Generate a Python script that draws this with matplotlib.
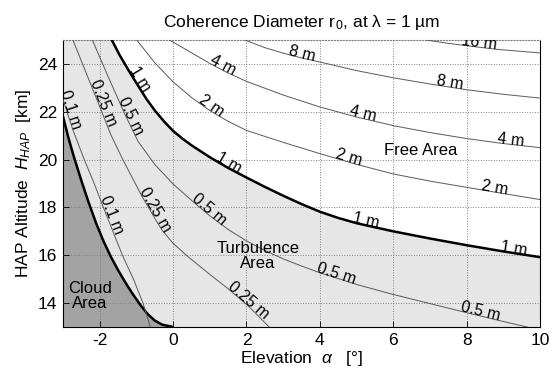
import numpy as np
import matplotlib
matplotlib.use("Agg")
import matplotlib.pyplot as plt

plt.rcParams["font.family"] = ["Liberation Sans", "DejaVu Sans"]
plt.rcParams["mathtext.fontset"] = "custom"
plt.rcParams["mathtext.rm"] = "Liberation Sans"
plt.rcParams["mathtext.it"] = "Liberation Sans:italic"
plt.rcParams["axes.unicode_minus"] = False

# r0 contour lines: elevation [deg] -> HAP altitude [km]
R010_EL = [-3.0, -2.72, -2.42, -2.15, -1.9, -1.64, -1.38, -1.08, -0.82, -0.62]
R010_H = [22.5, 21.2, 20.0, 19.0, 18.0, 17.0, 16.0, 15.0, 14.0, 13.0]
R025_EL = [-2.73, -2.35, -1.97, -1.7, -1.37, -0.86, -0.5, -0.3, 0.0, 0.4, 1.0, 1.5, 2.05, 2.62]
R025_H = [25.0, 23.55, 22.1, 21.05, 20.0, 18.5, 17.55, 17.05, 16.5, 15.95, 15.2, 14.6, 13.88, 13.0]
R050_EL = [-2.2, -1.75, -1.3, -0.95, -0.5, 0.0, 0.5, 1.0, 1.5, 2.0, 2.5, 3.0, 3.5, 4.0,
           5.0, 6.0, 7.0, 8.0, 9.0, 9.65]
R050_H = [25.0, 23.4, 21.85, 20.75, 19.8, 18.98, 18.3, 17.65, 17.08, 16.6, 16.2, 15.85, 15.55,
          15.27, 14.78, 14.36, 13.98, 13.6, 13.23, 13.0]
R1_EL = [-1.67, -1.45, -1.2, -0.95, -0.72, -0.5, -0.25, 0.0, 0.25, 0.5, 1.0, 1.5, 2.0, 2.5,
         3.0, 3.5, 4.0, 4.5, 5.0, 6.0, 7.0, 8.0, 9.0, 10.0]
R1_H = [25.0, 24.35, 23.7, 23.08, 22.52, 22.06, 21.6, 21.2, 20.88, 20.6, 20.1, 19.65, 19.25,
        18.86, 18.49, 18.14, 17.82, 17.56, 17.34, 17.0, 16.7, 16.42, 16.16, 15.92]
R2_EL = [-0.99, -0.5, 0.0, 0.5, 1.0, 1.5, 2.0, 3.0, 4.0, 5.0, 6.0, 7.0, 8.0, 9.0, 10.0]
R2_H = [25.0, 24.05, 23.25, 22.6, 22.05, 21.6, 21.22, 20.72, 20.25, 19.8, 19.4, 19.1, 18.84,
        18.58, 18.33]
R4_EL = [-0.1, 0.5, 1.0, 1.5, 2.0, 3.0, 4.0, 5.0, 6.0, 7.0, 8.0, 9.0, 10.0]
R4_H = [25.0, 24.47, 24.02, 23.62, 23.27, 22.7, 22.2, 21.78, 21.42, 21.13, 20.88, 20.67, 20.5]
R8_EL = [1.96, 2.5, 3.0, 3.5, 4.0, 5.0, 6.0, 7.0, 8.0, 9.0, 10.0]
R8_H = [25.0, 24.68, 24.45, 24.25, 24.08, 23.72, 23.42, 23.16, 22.92, 22.73, 22.57]
R16_EL = [6.9, 7.5, 8.0, 8.82, 10.0]
R16_H = [25.0, 24.86, 24.76, 24.61, 24.46]

# cloud top boundary
CLOUD_EL = [-3.0, -2.85, -2.7, -2.5, -2.3, -2.1, -1.9, -1.7, -1.5, -1.3, -1.1, -0.9, -0.7,
            -0.5, -0.3, 0.0]
CLOUD_H = [21.8, 20.9, 20.1, 19.12, 18.2, 17.35, 16.6, 15.95, 15.38, 14.86, 14.38, 13.94,
           13.55, 13.27, 13.1, 13.0]

LINES = [
    ("0.1 m", R010_EL, R010_H, [-2.9, -1.8]),
    ("0.25 m", R025_EL, R025_H, [-2.02, -0.6, 1.97]),
    ("0.5 m", R050_EL, R050_H, [-1.27, 0.9, 4.42, 8.34]),
    ("1 m", R1_EL, R1_H, [-1.02, 1.45, 5.23, 9.26]),
    ("2 m", R2_EL, R2_H, [0.97, 4.75, 8.76]),
    ("4 m", R4_EL, R4_H, [1.3, 5.14, 9.2]),
    ("8 m", R8_EL, R8_H, [3.5, 7.53]),
    ("16 m", R16_EL, R16_H, [8.33]),
]

LIGHT = "#e6e6e6"
DARK = "#a3a3a3"

fig = plt.figure(figsize=(5.55, 3.72), dpi=100)
ax = fig.add_axes([63 / 555, 45 / 372, 477 / 555, 287 / 372])
ax.set_xlim(-3, 10)
ax.set_ylim(13, 25)
ax.set_facecolor("white")

# turbulence area below the 1 m line, cloud area left of the cloud boundary
ax.fill(np.r_[R1_EL, 10, -3, -3], np.r_[R1_H, 13, 13, 25], color=LIGHT, lw=0, zorder=1)
ax.fill(np.r_[CLOUD_EL, -3], np.r_[CLOUD_H, 13], color=DARK, lw=0, zorder=1.1)

ax.set_xticks(range(-2, 11, 2))
ax.set_yticks(range(14, 25, 2))
ax.grid(True, ls=":", color="0.5", lw=0.7)
ax.set_axisbelow(False)
ax.tick_params(direction="in", length=4, width=0.6, labelsize=12.5, pad=4)
for s in ("left", "bottom", "right"):
    ax.spines[s].set_linewidth(0.8)
ax.spines["top"].set_linestyle(":")
ax.spines["top"].set_color("0.5")

ax.plot(CLOUD_EL, CLOUD_H, color="black", lw=1.8, zorder=3, solid_capstyle="butt")
for name, xs, ys, anchors in LINES:
    thick = name == "1 m"
    ax.plot(xs, ys, color="black" if thick else "0.35", lw=1.8 if thick else 0.7, zorder=3)
    for x0 in anchors:
        y0 = np.interp(x0, xs, ys)
        p1 = ax.transData.transform((x0 - 0.05, np.interp(x0 - 0.05, xs, ys)))
        p2 = ax.transData.transform((x0 + 0.05, np.interp(x0 + 0.05, xs, ys)))
        ang = np.degrees(np.arctan2(p2[1] - p1[1], p2[0] - p1[0]))
        ax.text(x0, y0, name, rotation=ang, rotation_mode="anchor", ha="center",
                va="baseline", fontsize=11.5, clip_on=True, zorder=4)

ax.text(6.74, 20.36, "Free Area", ha="center", va="center", fontsize=12, zorder=4)
ax.text(2.31, 15.97, "Turbulence\nArea", ha="center", va="center", fontsize=12,
        linespacing=1.05, zorder=4)
ax.text(-2.26, 14.3, "Cloud\nArea", ha="center", va="center", fontsize=12,
        linespacing=1.05, zorder=4)

ax.set_title("Coherence Diameter r$_{\\,0}$, at λ = 1 µm", fontsize=12.5, pad=9)
ax.set_xlabel("Elevation  $\\alpha$   [°]", fontsize=12.5, labelpad=1)
ax.set_ylabel("HAP Altitude  $H_{HAP}$  [km]", fontsize=12.5, labelpad=4)

fig.savefig("out.png", dpi=100)
